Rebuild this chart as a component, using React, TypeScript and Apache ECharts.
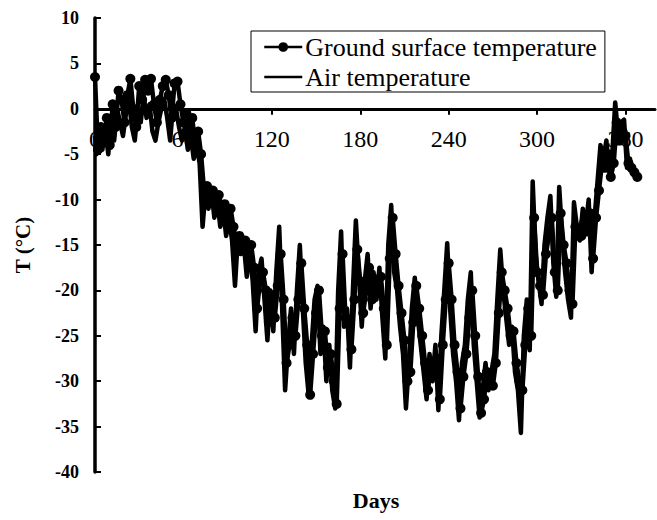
import React, { useEffect, useRef } from "react";
import * as echarts from "echarts";

const groundDays: number[] = [
  0, 2, 4, 6, 8, 10, 12, 14, 16, 18, 20, 22, 24, 26, 28, 30, 32, 34, 36, 38,
  40, 42, 44, 46, 48, 50, 52, 54, 56, 58, 60, 62, 64, 66, 68, 70, 72, 74, 76, 78,
  80, 82, 84, 86, 88, 90, 92, 94, 96, 98, 100, 102, 104, 106, 108, 110, 112, 114, 116, 118,
  120, 122, 124, 126, 128, 130, 132, 134, 136, 138, 140, 142, 144, 146, 148, 150, 152, 154, 156, 158,
  160, 162, 164, 166, 168, 170, 172, 174, 176, 178, 180, 182, 184, 186, 188, 190, 192, 194, 196, 198,
  200, 202, 204, 206, 208, 210, 212, 214, 216, 218, 220, 222, 224, 226, 228, 230, 232, 234, 236, 238,
  240, 242, 244, 246, 248, 250, 252, 254, 256, 258, 260, 262, 264, 266, 268, 270, 272, 274, 276, 278,
  280, 282, 284, 286, 288, 290, 292, 294, 296, 298, 300, 302, 304, 306, 308, 310, 312, 314, 316, 318,
  320, 322, 324, 326, 328, 330, 332, 334, 336, 338, 340, 342, 344, 346, 348, 350, 352, 354, 356, 358,
  360, 362, 364, 366, 368,
];

const airDays: number[] = [
  0, 1, 3, 5, 7, 9, 11, 13, 15, 17, 19, 21, 23, 25, 27, 29, 31, 33, 35, 37,
  39, 41, 43, 45, 47, 49, 51, 53, 55, 57, 59, 61, 63, 65, 67, 69, 71, 73, 75, 77,
  79, 81, 83, 85, 87, 89, 91, 93, 95, 97, 99, 101, 103, 105, 107, 109, 111, 113, 115, 117,
  119, 121, 123, 125, 127, 129, 131, 133, 135, 137, 139, 141, 143, 145, 147, 149, 151, 153, 155, 157,
  159, 161, 163, 165, 167, 169, 171, 173, 175, 177, 179, 181, 183, 185, 187, 189, 191, 193, 195, 197,
  199, 201, 203, 205, 207, 209, 211, 213, 215, 217, 219, 221, 223, 225, 227, 229, 231, 233, 235, 237,
  239, 241, 243, 245, 247, 249, 251, 253, 255, 257, 259, 261, 263, 265, 267, 269, 271, 273, 275, 277,
  279, 281, 283, 285, 287, 289, 291, 293, 295, 297, 299, 301, 303, 305, 307, 309, 311, 313, 315, 317,
  319, 321, 323, 325, 327, 329, 331, 333, 335, 337, 339, 341, 343, 345, 347, 349, 351, 353, 355, 357,
  359, 361, 363, 365, 367,
];

const airTemp: number[] = [
  -3, -5, -3.5, -4.5, -2, -5, -1, -3.5, 0, -1.5, -3, -0.5, 1, -2, -3.5, 0, -1.5, 1.5, -1, 0.5,
  -2.5, -3.5, -1.5, 0, 1, -1, -3.5, 0.5, 0, -2, -3.5, -2, -4.5, -3, -5.5, -4, -6, -13, -9, -11,
  -9, -12, -10, -13, -11, -14, -12, -14.5, -19.5, -14, -16, -15, -18.5, -15.5, -19, -24.5, -18, -16.5, -21, -25.5,
  -20, -24.5, -18, -13, -22, -31, -26, -22, -27, -20, -15, -22, -28, -31.5, -26, -21, -19.5, -27, -24, -30,
  -26, -31, -33, -20, -13.5, -24, -22, -28.5, -20, -12.3, -18, -24, -19, -16, -22, -18, -21, -17.5, -23, -27.5,
  -15, -10.6, -18, -20, -24, -27, -33, -28, -22, -18.6, -23, -26, -29, -32, -27, -30, -26, -33.2, -25, -20,
  -14.8, -22, -27, -30, -34.3, -28, -26, -21, -18, -26, -30, -34, -31, -28, -31, -29, -27, -21, -15.5, -20,
  -23, -26, -24, -29, -31, -35.7, -25, -21, -26.6, -8, -16, -19, -21.5, -15, -12, -9.6, -17, -20.7, -8.6, -14,
  -18, -21, -23, -10.3, -13, -14.5, -11, -13, -10, -18, -12, -8, -4, -5.5, -3.5, -7, -5, 0.7, -3, -1.5,
  -1.2, -6.5, -5.5, -7, -7.5,
];

const groundTemp: number[] = [
  3.5, -4.5, -2, -3.5, -1, -4, 0.5, -2, 2, 1, -1.5, 1.5, 3.3, 0, -2, 2.5, 1, 3.2, 2, 3.3,
  0.5, -1.5, 1, 2.5, 3.2, 1.5, -1, 2.8, 3.0, 0.5, -1.5, -0.5, -2.5, -1, -4, -2.5, -5, -9, -8.5, -9.5,
  -9, -10.5, -9.5, -11, -10.5, -12, -11, -13, -15, -14, -15, -14.5, -16.5, -15, -17.5, -22, -19, -18, -20, -23.5,
  -20.5, -23, -19.5, -16, -21, -28, -26, -23, -25, -21, -17, -22, -26, -31.5, -27, -22.5, -20, -25, -24.5, -28.5,
  -27, -30, -32.5, -22, -16, -23, -23.5, -26.5, -21, -15.5, -19, -22.5, -20, -17.5, -21, -19, -20, -18.5, -22, -26,
  -16.5, -12, -16, -19.5, -22.5, -25.5, -30, -29, -23.5, -19.5, -22, -25, -28, -31, -28, -29, -27.5, -32, -26, -21,
  -17, -21, -26, -29, -33, -29.5, -27, -23, -20, -25, -29.5, -33.5, -32, -29, -30, -30.5, -28, -22.5, -18, -20,
  -22, -25, -24.5, -28, -30, -31, -26, -22, -25, -12, -18, -19.5, -20.5, -16, -14, -12, -18, -20, -11.5, -15,
  -17, -20, -21.5, -13, -14, -14, -12.5, -13.5, -11.5, -16.5, -12, -9, -6, -6.5, -5, -7.5, -6, -1.5, -3.5, -2.5,
  -3, -6, -6.5, -7, -7.5,
];

const xTickValues: number[] = [0, 60, 120, 180, 240, 300, 360];

const SERIF = '"Liberation Serif", "Times New Roman", serif';

export default function App() {
  const ref = useRef<HTMLDivElement>(null);

  useEffect(() => {
    if (!ref.current) return;
    const chart = echarts.init(ref.current, null, { renderer: "svg" });
    const groundData = groundDays.map((d, i) => [d, groundTemp[i]]);
    const airData = airDays.map((d, i) => [d, airTemp[i]]);
    const gridTop = 18;
    const gridBottom = 48;
    const gridH = 520 - gridTop - gridBottom;
    const zeroFromBottom = (gridH * 40) / 50;
    chart.setOption({
      animation: false,
      backgroundColor: "#ffffff",
      grid: { left: 95, right: 2, top: gridTop, bottom: gridBottom, containLabel: false },
      legend: {
        orient: "vertical",
        left: 251,
        top: 31,
        padding: [3, 8, 2, 12],
        itemGap: 4,
        itemWidth: 38,
        itemHeight: 12,
        borderColor: "#000",
        borderWidth: 1,
        borderRadius: 0,
        backgroundColor: "#fff",
        lineStyle: { width: 2.5 },
        data: [
          { name: "Ground surface temperature" },
          { name: "Air temperature", itemStyle: { opacity: 0 } },
        ],
        textStyle: {
          fontFamily: SERIF,
          fontSize: 26,
          color: "#000",
          lineHeight: 26,
          padding: [0, 0, 0, -2],
        },
      },
      xAxis: {
        type: "value",
        min: 0,
        max: 380,
        interval: 60,
        offset: -zeroFromBottom,
        splitLine: { show: false },
        axisLine: { show: true, onZero: false, lineStyle: { color: "#000", width: 3 } },
        axisTick: {
          show: true,
          inside: false,
          length: 6,
          lineStyle: { color: "#000", width: 2 },
          customValues: xTickValues,
        },
        axisLabel: {
          fontFamily: SERIF,
          fontSize: 24,
          color: "#000",
          margin: 18,
          customValues: xTickValues,
        },
      },
      yAxis: {
        type: "value",
        min: -40,
        max: 10,
        interval: 5,
        name: "T (°C)",
        nameLocation: "middle",
        nameGap: 62,
        nameRotate: 90,
        nameTextStyle: {
          fontFamily: SERIF,
          fontSize: 21,
          fontWeight: "bold",
          color: "#000",
        },
        splitLine: { show: false },
        axisLine: { show: true, lineStyle: { color: "#000", width: 3.5 } },
        axisTick: { show: true, inside: true, length: 6, lineStyle: { color: "#000", width: 2 } },
        axisLabel: {
          fontFamily: SERIF,
          fontSize: 18,
          fontWeight: "bold",
          color: "#000",
          margin: 16,
        },
      },
      graphic: [
        {
          type: "text",
          x: 376,
          y: 500,
          style: {
            text: "Days",
            font: 'bold 22px "Liberation Serif", "Times New Roman", serif',
            fill: "#000",
            textAlign: "center",
            textVerticalAlign: "middle",
          },
        },
      ],
      series: [
        {
          name: "Ground surface temperature",
          type: "line",
          data: groundData,
          symbol: "circle",
          symbolSize: 10,
          showAllSymbol: true,
          lineStyle: { color: "#000", width: 4.5, join: "round" },
          itemStyle: { color: "#000", borderWidth: 0 },
          z: 3,
        },
        {
          name: "Air temperature",
          type: "line",
          data: airData,
          symbol: "none",
          lineStyle: { color: "#000", width: 4.5, join: "round" },
          itemStyle: { color: "#000" },
          z: 2,
        },
      ],
    });
    return () => chart.dispose();
  }, []);

  return (
    <div
      ref={ref}
      style={{ position: "absolute", left: 0, top: 0, width: 657, height: 520, background: "#fff" }}
    />
  );
}
